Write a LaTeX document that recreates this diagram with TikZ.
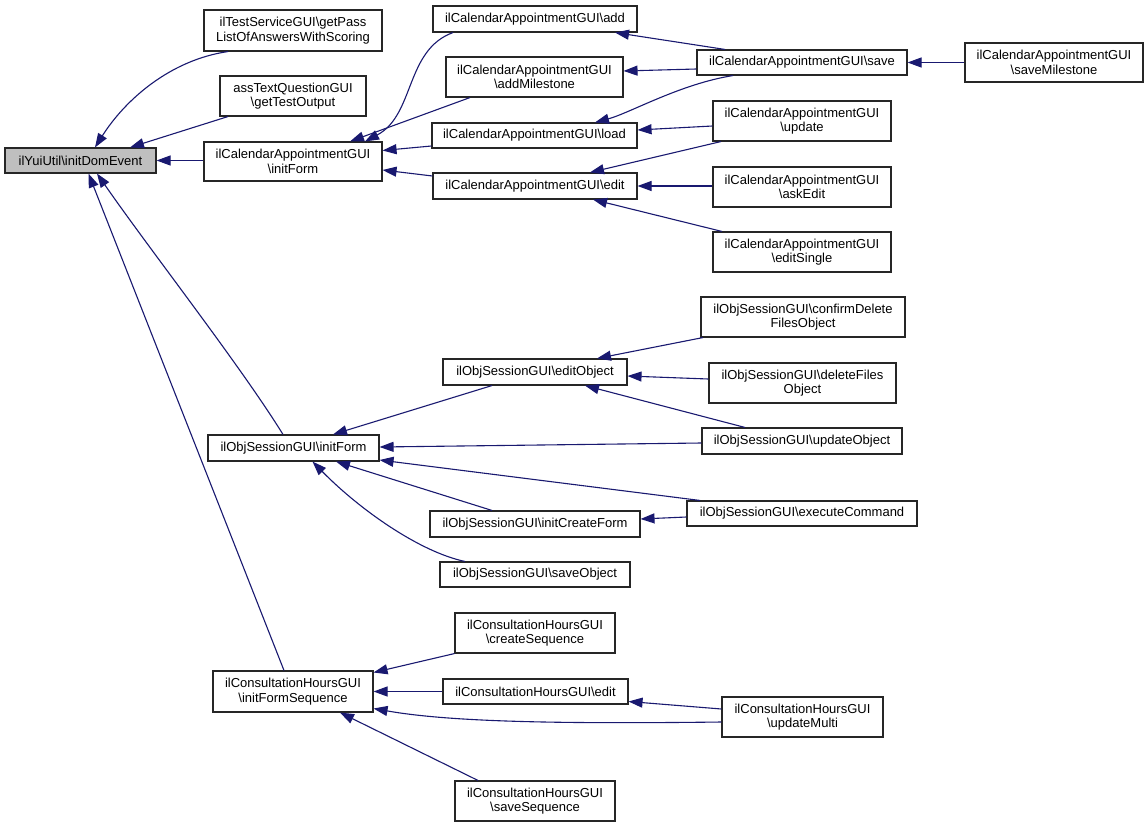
\documentclass[tikz,border=0pt]{standalone}
\usepackage{fontspec}
\setmainfont{Liberation Sans}
\usetikzlibrary{arrows.meta,calc}
\definecolor{navy}{HTML}{191970}
\definecolor{domgray}{HTML}{BFBFBF}
\newcommand{\nodefont}{\fontsize{13}{14.4}\selectfont}
\tikzset{
  box/.style={draw=black!85, line width=1.1pt, inner sep=0pt, align=center, font=\nodefont, fill=white},
  edge/.style={draw=navy, line width=1.1pt, {Triangle[length=14pt,width=10pt]}-},
}
\begin{document}
\begin{tikzpicture}[x=1pt,y=-1pt]
\useasboundingbox[fill=white] (0,0) rectangle (1148,827);
% nodes
\node[box, fill=domgray, minimum width=151, minimum height=25] (dom) at (80.5,160.5) {ilYuiUtil\textbackslash initDomEvent};
\node[box, minimum width=178, minimum height=41] (getPass) at (293,30.5) {ilTestServiceGUI\textbackslash getPass\\ListOfAnswersWithScoring};
\node[box, minimum width=146, minimum height=40] (assText) at (293,96) {assTextQuestionGUI\\\textbackslash getTestOutput};
\node[box, minimum width=178, minimum height=39] (calInit) at (293,161.5) {ilCalendarAppointmentGUI\\\textbackslash initForm};
\node[box, minimum width=204, minimum height=26] (add) at (535,19) {ilCalendarAppointmentGUI\textbackslash add};
\node[box, minimum width=177, minimum height=40] (addMs) at (534.5,77) {ilCalendarAppointmentGUI\\\textbackslash addMilestone};
\node[box, minimum width=205, minimum height=25] (load) at (534.5,135.5) {ilCalendarAppointmentGUI\textbackslash load};
\node[box, minimum width=204, minimum height=26] (edit) at (535,186) {ilCalendarAppointmentGUI\textbackslash edit};
\node[box, minimum width=210, minimum height=25] (save) at (802,62.5) {ilCalendarAppointmentGUI\textbackslash save};
\node[box, minimum width=178, minimum height=39] (saveMs) at (1054,62.5) {ilCalendarAppointmentGUI\\\textbackslash saveMilestone};
\node[box, minimum width=178, minimum height=40] (update) at (802,121) {ilCalendarAppointmentGUI\\\textbackslash update};
\node[box, minimum width=178, minimum height=40] (askEdit) at (802,187) {ilCalendarAppointmentGUI\\\textbackslash askEdit};
\node[box, minimum width=178, minimum height=40] (editSingle) at (802,252) {ilCalendarAppointmentGUI\\\textbackslash editSingle};
\node[box, minimum width=171, minimum height=26] (objInit) at (293.5,448) {ilObjSessionGUI\textbackslash initForm};
\node[box, minimum width=184, minimum height=26] (editObj) at (535,372) {ilObjSessionGUI\textbackslash editObject};
\node[box, minimum width=210, minimum height=26] (initCreate) at (535,524) {ilObjSessionGUI\textbackslash initCreateForm};
\node[box, minimum width=190, minimum height=25] (saveObj) at (535,574.5) {ilObjSessionGUI\textbackslash saveObject};
\node[box, minimum width=204, minimum height=40] (confirmDel) at (803,317) {ilObjSessionGUI\textbackslash confirmDelete\\FilesObject};
\node[box, minimum width=187, minimum height=40] (deleteFiles) at (802.5,383) {ilObjSessionGUI\textbackslash deleteFiles\\Object};
\node[box, minimum width=200, minimum height=26] (updateObj) at (802,441) {ilObjSessionGUI\textbackslash updateObject};
\node[box, minimum width=230, minimum height=25] (execCmd) at (802,513.5) {ilObjSessionGUI\textbackslash executeCommand};
\node[box, minimum width=160, minimum height=41] (initSeq) at (293,691.5) {ilConsultationHoursGUI\\\textbackslash initFormSequence};
\node[box, minimum width=160, minimum height=40] (createSeq) at (535,633) {ilConsultationHoursGUI\\\textbackslash createSequence};
\node[box, minimum width=185, minimum height=25] (chEdit) at (535.5,691.5) {ilConsultationHoursGUI\textbackslash edit};
\node[box, minimum width=160, minimum height=40] (saveSeq) at (535,801) {ilConsultationHoursGUI\\\textbackslash saveSequence};
\node[box, minimum width=161, minimum height=40] (updateMulti) at (802.5,717) {ilConsultationHoursGUI\\\textbackslash updateMulti};
% edges (arrow at callee)
\draw[edge] ($(dom.north)+(14.5,0)$) .. controls (125,100) and (170,60) .. ($(getPass.south)+(-65,0)$);
\draw[edge] ($(dom.north)+(49.5,0)$) -- ($(assText.south)+(-65,0)$);
\draw[edge] (dom.east) -- (dom.east -| calInit.west);
\draw[edge] ($(dom.south)+(16.5,0)$) .. controls (150,250) and (240,365) .. ($(objInit.north)+(-10.5,0)$);
\draw[edge] ($(dom.south)+(8,0)$) -- ($(initSeq.north)+(-9,0)$);
\draw[edge] ($(calInit.north)+(72,0)$) .. controls (415,115) and (405,50) .. ($(add.south)+(-82,0)$);
\draw[edge] ($(calInit.north)+(57,0)$) -- ($(addMs.south)+(-64.5,0)$);
\draw[edge] ($(calInit.east)+(0,-11)$) -- ($(load.west)+(0,10.5)$);
\draw[edge] ($(calInit.east)+(0,8.5)$) -- ($(edit.west)+(0,-10)$);
\draw[edge] ($(add.south)+(80,0)$) -- ($(save.north)+(-77,0)$);
\draw[edge] ($(addMs.east)+(0,-6)$) -- ($(save.west)+(0,6.5)$);
\draw[edge] ($(load.north)+(60.5,0)$) .. controls (630,113) and (680,84) .. ($(save.south)+(-69,0)$);
\draw[edge] (save.east) -- (saveMs.west);
\draw[edge] ($(load.east)+(0,-5.5)$) -- ($(update.west)+(0,5)$);
\draw[edge] ($(edit.north)+(55,0)$) -- ($(update.south)+(-81,0)$);
\draw[edge] (edit.east) -- (edit.east -| askEdit.west);
\draw[edge] ($(edit.south)+(58,0)$) -- ($(editSingle.north)+(-80,0)$);
\draw[edge] ($(objInit.north)+(39.5,0)$) -- ($(editObj.south)+(-43,0)$);
\draw[edge] ($(editObj.north)+(62,0)$) -- ($(confirmDel.south)+(-100,0)$);
\draw[edge] ($(editObj.east)+(0,4)$) -- ($(deleteFiles.west)+(0,-4)$);
\draw[edge] ($(editObj.south)+(50,0)$) -- ($(updateObj.north)+(-57,0)$);
\draw[edge] ($(objInit.east)+(0,-1)$) -- ($(updateObj.west)+(0,2)$);
\draw[edge] ($(objInit.east)+(0,12)$) -- ($(execCmd.north)+(-102,0)$);
\draw[edge] ($(initCreate.east)+(0,-5)$) -- ($(execCmd.west)+(0,3.5)$);
\draw[edge] ($(objInit.south)+(42.5,0)$) -- ($(initCreate.north)+(-43,0)$);
\draw[edge] ($(objInit.south)+(19,0)$) .. controls (360,510) and (420,552) .. ($(saveObj.north)+(-70,0)$);
\draw[edge] ($(initSeq.east)+(0,-19)$) -- (createSeq.south west);
\draw[edge] (initSeq.east) -- (chEdit.west);
\draw[edge] ($(chEdit.east)+(0,10)$) -- ($(updateMulti.west)+(0,-8)$);
\draw[edge] ($(initSeq.east)+(0,17)$) .. controls (450,722) and (560,724) .. ($(updateMulti.west)+(0,5)$);
\draw[edge] ($(initSeq.south)+(47,0)$) -- ($(saveSeq.north)+(-57,0)$);
\end{tikzpicture}
\end{document}
